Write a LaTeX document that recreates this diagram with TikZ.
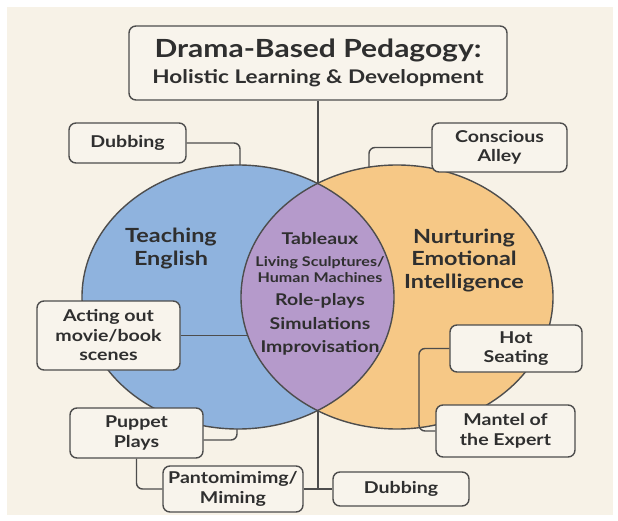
\documentclass[tikz,border=0pt]{standalone}
\usepackage{fontspec}
\setmainfont{Lato}[FakeStretch=1.2]
\usepackage{tikz}
\usetikzlibrary{positioning}
\definecolor{bgcream}{HTML}{F7F2E7}
\definecolor{boxcream}{HTML}{F8F4EC}
\definecolor{engblue}{HTML}{8FB3DE}
\definecolor{emoorange}{HTML}{F6C886}
\definecolor{lenspurple}{HTML}{B59ACB}
\definecolor{edgegray}{HTML}{4D4D4D}
\definecolor{inkgray}{HTML}{2F2F2F}

\begin{document}
\begin{tikzpicture}[x=1pt, y=-1pt,
    topic/.style={draw=edgegray, line width=1.4pt, fill=boxcream, rounded corners=7pt,
        align=center, text=inkgray, inner sep=0pt,
        font=\fontsize{16.3}{19.5}\selectfont\bfseries},
    link/.style={draw=edgegray, line width=1.4pt, rounded corners=6pt},
    ring/.style={draw=edgegray, line width=1.4pt},
    area/.style={align=center, text=inkgray, font=\fontsize{19.5}{22.5}\selectfont\bfseries},
    lensline/.style={text=inkgray, inner sep=0pt, font=\fontsize{16.2}{18}\selectfont\bfseries},
    lenssmall/.style={lensline, align=center, font=\fontsize{13.4}{16}\selectfont\bfseries}]
            \useasboundingbox (0,0) rectangle (618,521);
            \fill[white] (0,0) rectangle (618,521);
            \fill[bgcream] (7,7) rectangle (613,515);
            \coordinate (english_c) at (238,297);
            \coordinate (emotion_c) at (397,297);
            \node[topic, minimum width=378, minimum height=74, align=center] (title) at (318,63)
                {{\fontsize{25}{28}\selectfont Drama-Based Pedagogy:}\\[6pt]{\fontsize{18.8}{22}\selectfont Holistic Learning \& Development}};
            \coordinate (join_bottom) at (318,489);
            \draw[ring] (title.south) -- (join_bottom);
            \fill[engblue] (english_c) ellipse [x radius=156, y radius=132];
            \fill[emoorange] (emotion_c) ellipse [x radius=156, y radius=132];
            \begin{scope}
                \clip (english_c) ellipse [x radius=156, y radius=132];
                \fill[lenspurple] (emotion_c) ellipse [x radius=156, y radius=132];
            \end{scope}
            \draw[ring] (english_c) ellipse [x radius=156, y radius=132];
            \draw[ring] (emotion_c) ellipse [x radius=156, y radius=132];
            \node[area] (english) at (171,248.5) {Teaching\\English};
            \node[area] (emotion) at (464,260.5) {Nurturing\\Emotional\\Intelligence};
            \node[lensline] (tableaux) at (320,239) {Tableaux};
            \node[lenssmall] (sculptures) at (320,270) {Living Sculptures/\\Human Machines};
            \node[lensline] (roleplays) at (320,301) {Role-plays};
            \node[lensline] (simulations) at (320,324) {Simulations};
            \node[lensline] (improvisation) at (320,348) {Improvisation};
            \node[topic, minimum width=117, minimum height=40] (dubbing_top) at (127.5,143) {Dubbing};
            \node[topic, minimum width=135, minimum height=49] (alley) at (499.5,147.5) {Conscious\\Alley};
            \node[topic, minimum width=143, minimum height=69] (acting) at (108.5,335.5) {Acting out\\movie/book\\scenes};
            \node[topic, minimum width=132, minimum height=47] (hotseat) at (516,348.5) {Hot\\Seating};
            \node[topic, minimum width=139, minimum height=52] (mantel) at (505.5,431) {Mantel of\\the Expert};
            \node[topic, minimum width=133, minimum height=50] (puppet) at (136.5,433) {Puppet\\Plays};
            \node[topic, minimum width=140, minimum height=46] (miming) at (233,489) {Pantomimimg/\\Miming};
            \node[topic, minimum width=136, minimum height=34] (dubbing_bottom) at (401,489) {Dubbing};
            \coordinate (dubbing_end) at (240,165);
            \coordinate (alley_end) at (369,167);
            \coordinate (acting_end) at (248,335.5);
            \coordinate (hotseat_bend) at (419,348.5);
            \coordinate (puppet_end) at (237,429);
            \draw[link] (dubbing_top.east) -| (dubbing_end);
            \draw[link] (alley.west) -| (alley_end);
            \draw[link] (acting.east) -- (acting_end);
            \draw[link] (hotseat.west) -- (hotseat_bend) |- (mantel.west);
            \draw[link] ([yshift=-7pt]puppet.east) -| (puppet_end);
            \draw[link] (puppet.south) |- (miming.west);
            \draw[link] (miming.east) -- (join_bottom) -- (dubbing_bottom.west);
        \end{tikzpicture}
\end{document}
